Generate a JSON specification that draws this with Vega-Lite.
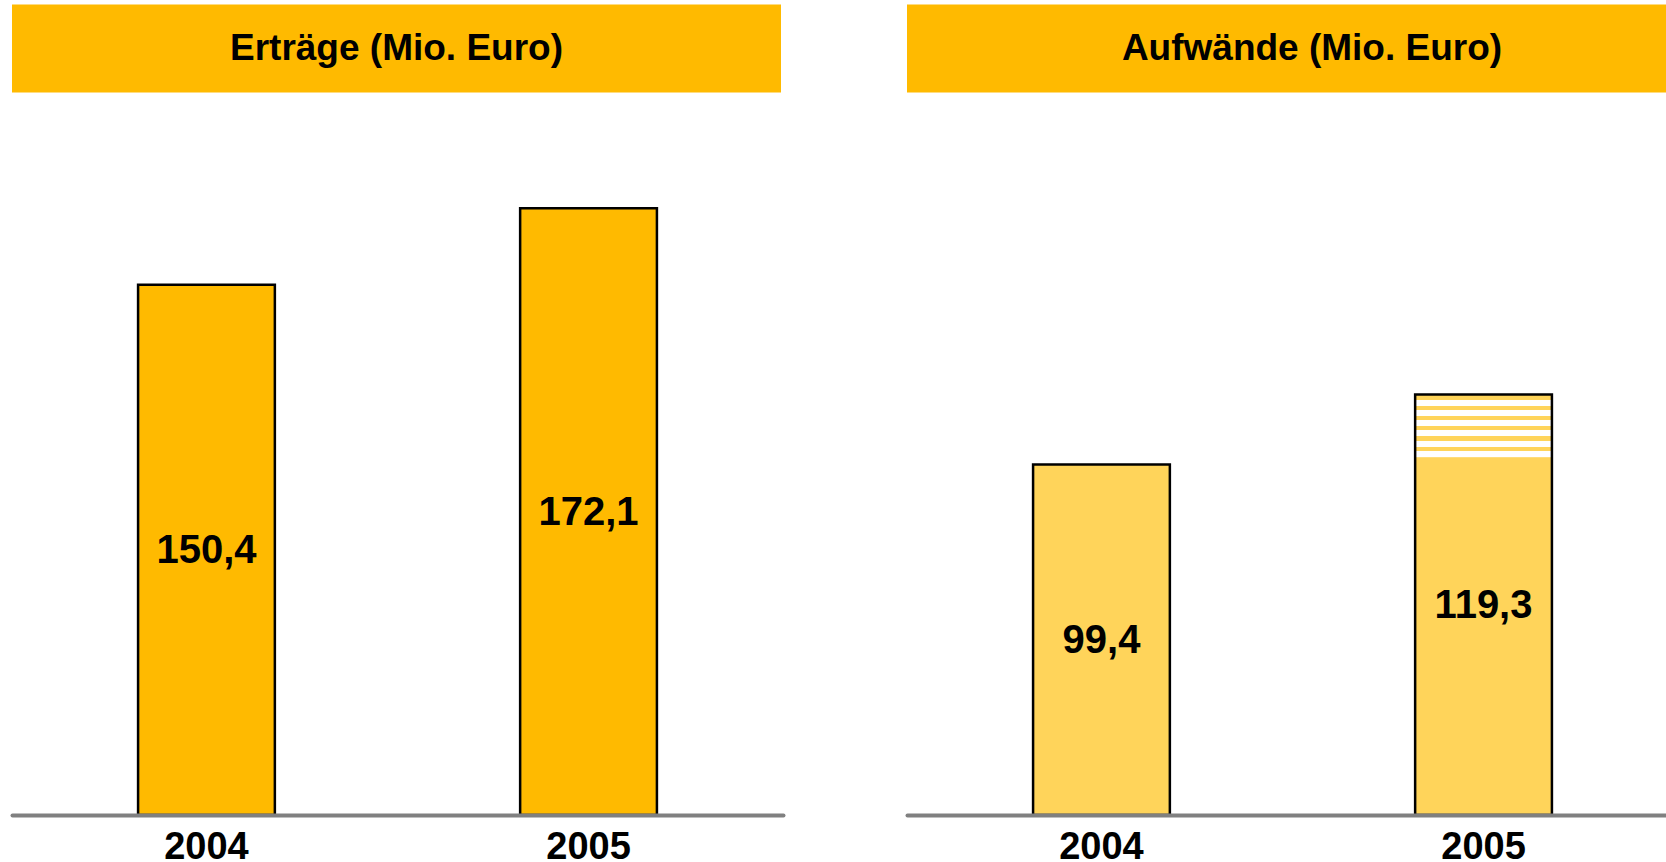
{
  "$schema": "https://vega.github.io/schema/vega-lite/v6.json",
  "padding": {"left": 12, "top": 4.5, "right": 0, "bottom": 0},
  "background": "white",
  "spacing": 124,
  "config": {"view": {"stroke": null}, "font": "Liberation Sans"},
  "hconcat": [
    {
      "spacing": 17.5,
      "vconcat": [
        {
          "width": 769,
          "height": 88,
          "view": {"fill": "#FFBA00", "stroke": null},
          "data": {"values": [{"t": "Erträge (Mio. Euro)"}]},
          "mark": {"type": "text", "fontSize": 37, "fontWeight": "bold", "font": "Liberation Sans", "color": "black", "baseline": "middle", "align": "center"},
          "encoding": {"text": {"field": "t", "type": "nominal"}}
        },
        {
          "width": 771,
          "height": 705,
          "data": {"values": [
            {"year": "2004", "segment": "base", "value": 150.4, "label": "150,4"},
            {"year": "2005", "segment": "base", "value": 172.1, "label": "172,1"}
          ]},
          "encoding": {
            "x": {"field": "year", "type": "nominal", "scale": {"paddingInner": 0.642, "paddingOuter": 0.33},
              "axis": {"title": null, "labelAngle": 0, "labelFontSize": 38, "labelFontWeight": "bold", "labelColor": "black", "labelFont": "Liberation Sans", "labelPadding": 13, "ticks": false, "domainColor": "#808080", "domainWidth": 4, "domainCap": "round", "zindex": 1, "grid": false}}
          },
          "layer": [
            {
              "mark": {"type": "bar", "fill": "#FFBA00", "stroke": "black", "strokeWidth": 2.5},
              "encoding": {"y": {"field": "value", "type": "quantitative", "scale": {"domain": [0, 200], "nice": false}, "axis": null}}
            },
            {
              "transform": [{"calculate": "datum.value / 2", "as": "mid"}],
              "mark": {"type": "text", "fontSize": 40, "fontWeight": "bold", "font": "Liberation Sans", "color": "black", "baseline": "middle", "align": "center", "dy": 1.5},
              "encoding": {"y": {"field": "mid", "type": "quantitative"}, "text": {"field": "label", "type": "nominal"}}
            }
          ]
        }
      ]
    },
    {
      "spacing": 17.5,
      "vconcat": [
        {
          "width": 810,
          "height": 88,
          "view": {"fill": "#FFBA00", "stroke": null},
          "data": {"values": [{"t": "Aufwände (Mio. Euro)"}]},
          "mark": {"type": "text", "fontSize": 37, "fontWeight": "bold", "font": "Liberation Sans", "color": "black", "baseline": "middle", "align": "center"},
          "encoding": {"text": {"field": "t", "type": "nominal"}}
        },
        {
          "width": 771,
          "height": 705,
          "data": {"values": [
            {"year": "2004", "segment": "base", "value": 99.4, "label": "99,4"},
            {"year": "2005", "segment": "base", "value": 101.5, "label": "119,3"},
            {"year": "2005", "segment": "extra", "value": 17.8, "label": "119,3"}
          ]},
          "encoding": {
            "x": {"field": "year", "type": "nominal", "scale": {"paddingInner": 0.642, "paddingOuter": 0.33},
              "axis": {"title": null, "labelAngle": 0, "labelFontSize": 38, "labelFontWeight": "bold", "labelColor": "black", "labelFont": "Liberation Sans", "labelPadding": 13, "ticks": false, "domainColor": "#808080", "domainWidth": 4, "domainCap": "round", "zindex": 1, "grid": false}}
          },
          "layer": [
            {
              "mark": {"type": "bar", "strokeWidth": 0},
              "encoding": {
                "y": {"field": "value", "type": "quantitative", "stack": "zero", "scale": {"domain": [0, 200], "nice": false}, "axis": null},
                "detail": {"field": "segment", "type": "nominal"},
                "order": {"field": "segment", "sort": "ascending"},
                "fill": {
                  "condition": {"test": "datum.segment === 'extra'", "value": {"gradient": "linear", "x1": 0, "y1": 0, "x2": 0, "y2": 1, "stops": [
                    {"offset": 0, "color": "#FFD45A"}, {"offset": 0.09, "color": "#FFD45A"},
                    {"offset": 0.09, "color": "#FFFFFF"}, {"offset": 0.185, "color": "#FFFFFF"},
                    {"offset": 0.185, "color": "#FFD45A"}, {"offset": 0.251, "color": "#FFD45A"},
                    {"offset": 0.251, "color": "#FFFFFF"}, {"offset": 0.346, "color": "#FFFFFF"},
                    {"offset": 0.346, "color": "#FFD45A"}, {"offset": 0.413, "color": "#FFD45A"},
                    {"offset": 0.413, "color": "#FFFFFF"}, {"offset": 0.508, "color": "#FFFFFF"},
                    {"offset": 0.508, "color": "#FFD45A"}, {"offset": 0.574, "color": "#FFD45A"},
                    {"offset": 0.574, "color": "#FFFFFF"}, {"offset": 0.669, "color": "#FFFFFF"},
                    {"offset": 0.669, "color": "#FFD45A"}, {"offset": 0.735, "color": "#FFD45A"},
                    {"offset": 0.735, "color": "#FFFFFF"}, {"offset": 0.83, "color": "#FFFFFF"},
                    {"offset": 0.83, "color": "#FFD45A"}, {"offset": 0.897, "color": "#FFD45A"},
                    {"offset": 0.897, "color": "#FFFFFF"}, {"offset": 0.99, "color": "#FFFFFF"},
                    {"offset": 0.99, "color": "#FFD45A"}, {"offset": 1, "color": "#FFD45A"}
                  ]}},
                  "value": "#FFD45A"
                }
              }
            },
            {
              "mark": {"type": "bar", "fill": "transparent", "stroke": "black", "strokeWidth": 2.5},
              "encoding": {"y": {"aggregate": "sum", "field": "value", "type": "quantitative"}}
            },
            {
              "transform": [
                {"aggregate": [{"op": "sum", "field": "value", "as": "total"}], "groupby": ["year", "label"]},
                {"calculate": "datum.total / 2", "as": "mid"}
              ],
              "mark": {"type": "text", "fontSize": 40, "fontWeight": "bold", "font": "Liberation Sans", "color": "black", "baseline": "middle", "align": "center", "dy": 1.5},
              "encoding": {"y": {"field": "mid", "type": "quantitative"}, "text": {"field": "label", "type": "nominal"}}
            }
          ]
        }
      ]
    }
  ]
}
